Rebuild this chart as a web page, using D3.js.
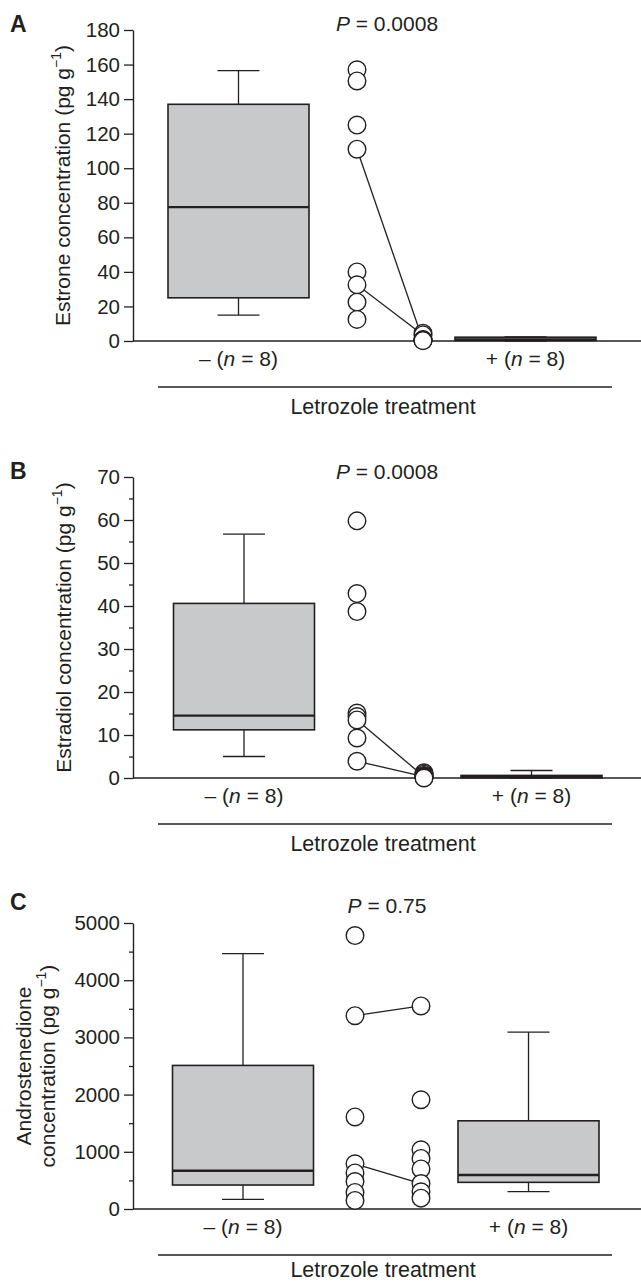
<!DOCTYPE html>
<html>
<head>
<meta charset="utf-8">
<script src="https://cdn.jsdelivr.net/npm/d3@7.9.0/dist/d3.min.js"></script>
<style>
  html, body { margin: 0; padding: 0; background: #fff; }
  svg { display: block; font-family: "Liberation Sans", Arial, Helvetica, sans-serif; }
</style>
</head>
<body>
<svg id="chart" width="641" height="1284"></svg>
<script>
// ---- data ----
const groupSigns = ['–', '+'];
const groupN = [8, 8];
const xTitle = 'Letrozole treatment';
const panelLetters = ['A', 'B', 'C'];
const pValues = ['0.0008', '0.0008', '0.75'];

// A: estrone
const estroneTicks = [0, 20, 40, 60, 80, 100, 120, 140, 160, 180];
const estroneMinusBox = [15, 25, 77.5, 137, 156.5];   // low whisker, q1, median, q3, high whisker
const estronePlusBox = [0, 0.3, 0.9, 2.2, 2.4];
const estroneBefore = [157, 150.5, 125, 111, 40, 32.5, 22.5, 12.5];
const estroneAfter = [4.5, 3.5, 0.8, 0.6, 0.5, 0.4, 0.3, 0.2];
const estroneLinks = [[111, 0.3], [32.5, 3.5]];

// B: estradiol
const estradiolTicks = [0, 10, 20, 30, 40, 50, 60, 70];
const estradiolMinor = [5, 15, 25, 35, 45, 55, 65];
const estradiolMinusBox = [5, 11.2, 14.5, 40.6, 56.7];
const estradiolPlusBox = [0, 0.05, 0.3, 0.6, 1.75];
const estradiolBefore = [59.8, 42.9, 38.7, 15.1, 14.3, 13.5, 9.3, 3.9];
const estradiolAfter = [1.2, 0.9, 0.6, 0.4, 0.3, 0.2, 0.1, 0];
const estradiolLinks = [[13.5, 0.3], [3.9, 0.3]];

// C: androstenedione
const androTicks = [0, 1000, 2000, 3000, 4000, 5000];
const androMinor = [500, 1500, 2500, 3500, 4500];
const androMinusBox = [169, 419, 669, 2510, 4465];
const androPlusBox = [303, 466, 594, 1542, 3091];
const androBefore = [4780, 3380, 1610, 790, 630, 480, 290, 150];
const androAfter = [3550, 1910, 1035, 885, 700, 445, 300, 190];
const androLinks = [[3380, 3550], [790, 445]];

// ---- layout ----
const ink = '#231f20';
const boxFill = '#c8c9cb';
const svg = d3.select('#chart');

const panels = [
  {
    letter: panelLetters[0], p: pValues[0], title: ['Estrone concentration (pg g'],
    domain: [0, 180], ticks: estroneTicks, minor: null,
    minusBox: estroneMinusBox, plusBox: estronePlusBox,
    before: estroneBefore, after: estroneAfter, links: estroneLinks,
    top: 30, bottom: 341, xs: [238.5, 357, 423, 525.5],
    letterY: 32, pY: 31, titleX: [70], xTitleY: 414
  },
  {
    letter: panelLetters[1], p: pValues[1], title: ['Estradiol concentration (pg g'],
    domain: [0, 70], ticks: estradiolTicks, minor: estradiolMinor,
    minusBox: estradiolMinusBox, plusBox: estradiolPlusBox,
    before: estradiolBefore, after: estradiolAfter, links: estradiolLinks,
    top: 477, bottom: 778, xs: [244, 357, 424, 531.5],
    letterY: 479, pY: 479, titleX: [71], xTitleY: 851
  },
  {
    letter: panelLetters[2], p: pValues[2], title: ['Androstenedione', 'concentration (pg g'],
    domain: [0, 5000], ticks: androTicks, minor: androMinor,
    minusBox: androMinusBox, plusBox: androPlusBox,
    before: androBefore, after: androAfter, links: androLinks,
    top: 923, bottom: 1209, xs: [243, 355, 421, 528.5],
    letterY: 910, pY: 913, titleX: [31, 55], xTitleY: 1277
  }
];

const axisX = 133;
const boxW = 141;
const capHalf = 21;

function drawBox(g, stats, cx, y) {
  const [lo, q1, med, q3, hi] = stats;
  g.append('line').attr('x1', cx).attr('x2', cx).attr('y1', y(hi)).attr('y2', y(q3));
  g.append('line').attr('x1', cx).attr('x2', cx).attr('y1', y(q1)).attr('y2', y(lo));
  g.append('line').attr('x1', cx - capHalf).attr('x2', cx + capHalf).attr('y1', y(hi)).attr('y2', y(hi));
  g.append('line').attr('x1', cx - capHalf).attr('x2', cx + capHalf).attr('y1', y(lo)).attr('y2', y(lo));
  g.append('rect')
    .attr('x', cx - boxW / 2).attr('width', boxW)
    .attr('y', y(q3)).attr('height', Math.max(0.5, y(q1) - y(q3)))
    .attr('fill', boxFill).attr('stroke', ink).attr('stroke-width', 1.6);
  g.append('line').attr('x1', cx - boxW / 2).attr('x2', cx + boxW / 2)
    .attr('y1', y(med)).attr('y2', y(med)).attr('stroke-width', 2.4);
}

function drawPanel(p) {
  const g = svg.append('g').attr('stroke', ink).attr('stroke-width', 1.3);
  const y = d3.scaleLinear().domain(p.domain).range([p.bottom, p.top]);
  const x = d3.scaleOrdinal().domain(['minus', 'before', 'after', 'plus']).range(p.xs);

  // y axis
  const ax = g.append('g')
    .attr('transform', `translate(${axisX},0)`)
    .call(d3.axisLeft(y).tickValues(p.ticks).tickFormat(d3.format('d'))
      .tickSize(9).tickPadding(4).tickSizeOuter(0));
  ax.attr('font-family', null).attr('font-size', 20.5);
  ax.select('.domain').attr('stroke', ink).attr('stroke-width', 1.4);
  ax.selectAll('.tick line').attr('stroke', ink).attr('stroke-width', 1.3);
  ax.selectAll('.tick text').attr('fill', ink).attr('stroke', 'none');

  if (p.minor) {
    const mx = g.append('g')
      .attr('transform', `translate(${axisX},0)`)
      .call(d3.axisLeft(y).tickValues(p.minor).tickSize(4).tickFormat(''));
    mx.select('.domain').remove();
    mx.selectAll('.tick line').attr('stroke', ink).attr('stroke-width', 1.3);
  }

  // x baseline
  g.append('line').attr('x1', axisX).attr('x2', 641)
    .attr('y1', y(0)).attr('y2', y(0)).attr('stroke-width', 1.4);

  drawBox(g, p.minusBox, x('minus'), y);
  drawBox(g, p.plusBox, x('plus'), y);

  // paired lines, then points on top
  g.selectAll('line.link').data(p.links).join('line')
    .attr('class', 'link')
    .attr('x1', x('before')).attr('y1', d => y(d[0]))
    .attr('x2', x('after')).attr('y2', d => y(d[1]));

  g.selectAll('circle.before').data(p.before).join('circle')
    .attr('class', 'before')
    .attr('cx', x('before')).attr('cy', d => y(d)).attr('r', 8.8)
    .attr('fill', '#fff').attr('stroke-width', 1.4);
  g.selectAll('circle.after').data(p.after).join('circle')
    .attr('class', 'after')
    .attr('cx', x('after')).attr('cy', d => y(d)).attr('r', 8.8)
    .attr('fill', '#fff').attr('stroke-width', 1.4);

  // texts
  const t = svg.append('g').attr('fill', ink);

  t.append('text').attr('x', 10).attr('y', p.letterY)
    .attr('font-size', 23).attr('font-weight', 'bold').text(p.letter);

  const pt = t.append('text').attr('x', 387).attr('y', p.pY)
    .attr('font-size', 21).attr('text-anchor', 'middle');
  pt.append('tspan').attr('font-style', 'italic').text('P');
  pt.append('tspan').text(' = ' + p.p);

  groupSigns.forEach((s, i) => {
    const lt = t.append('text')
      .attr('x', x(i === 0 ? 'minus' : 'plus')).attr('y', p.bottom + 25)
      .attr('font-size', 21).attr('text-anchor', 'middle');
    lt.append('tspan').text(s + ' (');
    lt.append('tspan').attr('font-style', 'italic').text('n');
    lt.append('tspan').text(' = ' + groupN[i] + ')');
  });

  svg.append('line').attr('x1', 158).attr('x2', 612)
    .attr('y1', p.bottom + 46).attr('y2', p.bottom + 46)
    .attr('stroke', ink).attr('stroke-width', 1.3);
  t.append('text').attr('x', 383).attr('y', p.xTitleY)
    .attr('font-size', 21.5).attr('text-anchor', 'middle').text(xTitle);

  // y title (rotated)
  const yc = (p.top + p.bottom) / 2;
  p.title.forEach((line, i) => {
    const last = i === p.title.length - 1;
    const tt = t.append('text')
      .attr('transform', `translate(${p.titleX[i]},${yc}) rotate(-90)`)
      .attr('font-size', 21).attr('text-anchor', 'middle');
    tt.append('tspan').text(line);
    if (last) {
      tt.append('tspan').attr('font-size', 14).attr('dy', -9).text('−1');
      tt.append('tspan').attr('dy', 9).text(')');
    }
  });
}

panels.forEach(drawPanel);
</script>
</body>
</html>
